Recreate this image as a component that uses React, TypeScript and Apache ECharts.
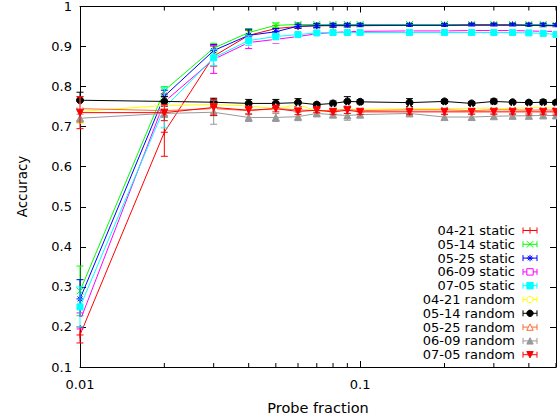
import React, { useEffect, useRef } from "react";
import * as echarts from "echarts";

// ---------- data ----------
const probeFractions = [0.01, 0.02, 0.03, 0.04, 0.05, 0.06, 0.07, 0.08, 0.09, 0.1, 0.15, 0.2, 0.25, 0.3, 0.35, 0.4, 0.45, 0.5];
const minorTickValues = [0.02, 0.03, 0.04, 0.05, 0.06, 0.07, 0.08, 0.09, 0.2, 0.3, 0.4, 0.5];

const seriesNames = [
  "04-21 static", "05-14 static", "05-25 static", "06-09 static", "07-05 static",
  "04-21 random", "05-14 random", "05-25 random", "06-09 random", "07-05 random",
];

const acc0421Static = [0.18, 0.686, 0.876, 0.928, 0.945, 0.95, 0.952, 0.952, 0.952, 0.952, 0.953, 0.953, 0.953, 0.953, 0.953, 0.953, 0.952, 0.952];
const err0421Static = [0.02, 0.06, 0.025, 0.012, 0.008, 0.005, 0.005, 0.004, 0.004, 0.004, 0.004, 0.004, 0.004, 0.004, 0.004, 0.004, 0.004, 0.004];
const acc0514Static = [0.29, 0.79, 0.896, 0.935, 0.953, 0.955, 0.955, 0.955, 0.955, 0.955, 0.955, 0.955, 0.955, 0.955, 0.955, 0.955, 0.955, 0.953];
const err0514Static = [0.062, 0.01, 0.012, 0.01, 0.006, 0.005, 0.004, 0.004, 0.004, 0.004, 0.004, 0.004, 0.004, 0.004, 0.004, 0.004, 0.004, 0.004];
const acc0525Static = [0.27, 0.776, 0.89, 0.928, 0.937, 0.951, 0.952, 0.953, 0.953, 0.953, 0.953, 0.953, 0.954, 0.954, 0.954, 0.953, 0.953, 0.952];
const err0525Static = [0.048, 0.015, 0.015, 0.015, 0.008, 0.005, 0.005, 0.004, 0.004, 0.004, 0.004, 0.004, 0.004, 0.004, 0.004, 0.005, 0.005, 0.005];
const acc0609Static = [0.215, 0.762, 0.868, 0.91, 0.918, 0.925, 0.932, 0.935, 0.937, 0.938, 0.939, 0.939, 0.94, 0.94, 0.94, 0.939, 0.938, 0.938];
const err0609Static = [0.02, 0.02, 0.035, 0.015, 0.01, 0.006, 0.005, 0.004, 0.004, 0.004, 0.004, 0.004, 0.004, 0.004, 0.004, 0.004, 0.004, 0.004];
const acc0705Static = [0.25, 0.747, 0.872, 0.915, 0.925, 0.93, 0.934, 0.935, 0.935, 0.935, 0.935, 0.935, 0.935, 0.935, 0.935, 0.934, 0.933, 0.93];
const err0705Static = [0.05, 0.05, 0.02, 0.012, 0.008, 0.005, 0.005, 0.004, 0.004, 0.004, 0.004, 0.004, 0.004, 0.004, 0.004, 0.004, 0.004, 0.004];

const acc0421Random = [0.738, 0.753, 0.755, 0.752, 0.745, 0.755, 0.739, 0.74, 0.745, 0.743, 0.745, 0.745, 0.746, 0.746, 0.745, 0.748, 0.748, 0.747];
const err0421Random = [0.03, 0.01, 0.01, 0.01, 0.008, 0.008, 0.006, 0.006, 0.006, 0.006, 0.006, 0.006, 0.006, 0.006, 0.006, 0.006, 0.006, 0.006];
const acc0514Random = [0.766, 0.763, 0.761, 0.758, 0.758, 0.76, 0.755, 0.758, 0.763, 0.762, 0.76, 0.763, 0.758, 0.763, 0.761, 0.76, 0.761, 0.76];
const err0514Random = [0.02, 0.012, 0.01, 0.01, 0.01, 0.01, 0.004, 0.006, 0.012, 0.005, 0.01, 0.005, 0.005, 0.006, 0.004, 0.004, 0.006, 0.005];
const acc0525Random = [0.745, 0.74, 0.745, 0.74, 0.745, 0.742, 0.74, 0.74, 0.743, 0.74, 0.742, 0.742, 0.74, 0.742, 0.742, 0.741, 0.742, 0.741];
const err0525Random = [0.03, 0.012, 0.012, 0.01, 0.008, 0.008, 0.006, 0.006, 0.006, 0.006, 0.006, 0.006, 0.006, 0.006, 0.006, 0.006, 0.006, 0.006];
const acc0609Random = [0.721, 0.733, 0.736, 0.723, 0.723, 0.725, 0.733, 0.73, 0.728, 0.73, 0.733, 0.724, 0.724, 0.726, 0.727, 0.727, 0.728, 0.728];
const err0609Random = [0.01, 0.01, 0.03, 0.01, 0.01, 0.01, 0.006, 0.006, 0.012, 0.006, 0.006, 0.006, 0.008, 0.006, 0.006, 0.006, 0.006, 0.006];
const acc0705Random = [0.735, 0.735, 0.748, 0.741, 0.745, 0.738, 0.741, 0.737, 0.741, 0.737, 0.737, 0.737, 0.737, 0.737, 0.737, 0.737, 0.737, 0.737];
const err0705Random = [0.04, 0.02, 0.02, 0.01, 0.008, 0.008, 0.006, 0.006, 0.008, 0.006, 0.006, 0.006, 0.006, 0.006, 0.006, 0.008, 0.006, 0.008];

const allAcc = [acc0421Static, acc0514Static, acc0525Static, acc0609Static, acc0705Static, acc0421Random, acc0514Random, acc0525Random, acc0609Random, acc0705Random];
const allErr = [err0421Static, err0514Static, err0525Static, err0609Static, err0705Static, err0421Random, err0514Random, err0525Random, err0609Random, err0705Random];

// ---------- style ----------
const colors = ["#ff0000", "#00ff00", "#0000ff", "#ff00ff", "#00ffff", "#ffff00", "#000000", "#ff6a30", "#999999", "#ff0000"];
const markerKinds = ["plus", "cross", "star", "emptyRect", "rect", "emptyCircle", "circle", "emptyTriangle", "triangle", "invTriangle"];

const FONT = "DejaVu Sans";
const GRID = { left: 80, top: 6, width: 476, height: 361 };

const symbolFor = (kind: string) => {
  switch (kind) {
    case "plus": return "path://M5,0L5,10M0,5L10,5";
    case "cross": return "path://M0,0L10,10M10,0L0,10";
    case "star": return "path://M5,0L5,10M0,5L10,5M1.5,1.5L8.5,8.5M8.5,1.5L1.5,8.5";
    case "invTriangle": return "triangle";
    default: return kind;
  }
};

const legendMarker = (kind: string, color: string, cx: number, cy: number): any[] => {
  const s = 3.2;
  const ln = (x1: number, y1: number, x2: number, y2: number) => ({
    type: "line", shape: { x1, y1, x2, y2 }, style: { stroke: color, lineWidth: 1 }, z: 100,
  });
  switch (kind) {
    case "plus": return [ln(cx - s, cy, cx + s, cy), ln(cx, cy - s, cx, cy + s)];
    case "cross": return [ln(cx - s, cy - s, cx + s, cy + s), ln(cx - s, cy + s, cx + s, cy - s)];
    case "star": return [ln(cx - s, cy, cx + s, cy), ln(cx, cy - s, cx, cy + s), ln(cx - s * 0.7, cy - s * 0.7, cx + s * 0.7, cy + s * 0.7), ln(cx - s * 0.7, cy + s * 0.7, cx + s * 0.7, cy - s * 0.7)];
    case "emptyRect": return [{ type: "rect", shape: { x: cx - s, y: cy - s, width: 2 * s, height: 2 * s }, style: { fill: "#fff", stroke: color, lineWidth: 1 }, z: 100 }];
    case "rect": return [{ type: "rect", shape: { x: cx - s, y: cy - s, width: 2 * s, height: 2 * s }, style: { fill: color, stroke: color, lineWidth: 1 }, z: 100 }];
    case "emptyCircle": return [{ type: "circle", shape: { cx, cy, r: s }, style: { fill: "#fff", stroke: color, lineWidth: 1 }, z: 100 }];
    case "circle": return [{ type: "circle", shape: { cx, cy, r: s }, style: { fill: color, stroke: color, lineWidth: 1 }, z: 100 }];
    case "emptyTriangle": return [{ type: "polygon", shape: { points: [[cx, cy - s], [cx + s, cy + s], [cx - s, cy + s]] }, style: { fill: "#fff", stroke: color, lineWidth: 1 }, z: 100 }];
    case "triangle": return [{ type: "polygon", shape: { points: [[cx, cy - s], [cx + s, cy + s], [cx - s, cy + s]] }, style: { fill: color, stroke: color, lineWidth: 1 }, z: 100 }];
    case "invTriangle": return [{ type: "polygon", shape: { points: [[cx, cy + s], [cx + s, cy - s], [cx - s, cy - s]] }, style: { fill: color, stroke: color, lineWidth: 1 }, z: 100 }];
  }
  return [];
};

export default function App() {
  const ref = useRef<HTMLDivElement>(null);

  useEffect(() => {
    if (!ref.current) return;
    const chart = echarts.init(ref.current, null, { renderer: "svg" });

    const series: any[] = [];
    seriesNames.forEach((name, i) => {
      const color = colors[i];
      const kind = markerKinds[i];
      series.push({
        name,
        type: "line",
        xAxisIndex: 0,
        yAxisIndex: 0,
        data: probeFractions.map((x, j) => [x, allAcc[i][j]]),
        symbol: symbolFor(kind),
        symbolRotate: kind === "invTriangle" ? 180 : 0,
        symbolSize: kind.indexOf("Rect") >= 0 || kind === "rect" ? 6 : 7,
        showSymbol: true,
        lineStyle: { color, width: 1 },
        itemStyle: { color: kind.startsWith("empty") ? "#fff" : color, borderColor: color, borderWidth: 1 },
        emphasis: { disabled: true },
        z: 10 + i * 2 + 1,
        clip: false,
      });
      series.push({
        name: name + " err",
        type: "custom",
        xAxisIndex: 0,
        yAxisIndex: 0,
        data: probeFractions.map((x, j) => [x, allAcc[i][j], allErr[i][j]]),
        dimensions: ["x", "y", "e"],
        encode: { x: 0, y: 1 },
        z: 10 + i * 2,
        silent: true,
        renderItem: (_p: any, api: any) => {
          const x = api.value(0);
          const y = api.value(1);
          const e = api.value(2);
          const top = api.coord([x, y + e]);
          const bot = api.coord([x, y - e]);
          const w = 3.5;
          const st = { stroke: color, lineWidth: 1 };
          return {
            type: "group",
            children: [
              { type: "line", shape: { x1: top[0], y1: top[1], x2: bot[0], y2: bot[1] }, style: st },
              { type: "line", shape: { x1: top[0] - w, y1: top[1], x2: top[0] + w, y2: top[1] }, style: st },
              { type: "line", shape: { x1: bot[0] - w, y1: bot[1], x2: bot[0] + w, y2: bot[1] }, style: st },
            ],
          };
        },
      });
    });

    // minor log ticks on bottom and top
    series.push({
      type: "custom",
      name: "minorTicks",
      xAxisIndex: 0,
      yAxisIndex: 0,
      data: minorTickValues.map((v) => [v, 0.1]),
      encode: { x: 0, y: 1 },
      silent: true,
      z: 50,
      clip: false,
      renderItem: (_p: any, api: any) => {
        const x = api.value(0);
        const b = api.coord([x, 0.1]);
        const t = api.coord([x, 1]);
        const st = { stroke: "#000", lineWidth: 1 };
        return {
          type: "group",
          children: [
            { type: "line", shape: { x1: b[0], y1: b[1], x2: b[0], y2: b[1] - 4 }, style: st },
            { type: "line", shape: { x1: t[0], y1: t[1], x2: t[0], y2: t[1] + 4 }, style: st },
          ],
        };
      },
    });

    const legendGraphics: any[] = [];
    seriesNames.forEach((name, i) => {
      const cy = 230.5 + i * 13.8;
      const color = colors[i];
      legendGraphics.push({
        type: "text",
        x: 515,
        y: cy,
        style: { text: name, fill: "#000", font: `13px "${FONT}"`, align: "right", verticalAlign: "middle" },
        z: 100,
      });
      const st = { stroke: color, lineWidth: 1 };
      legendGraphics.push({ type: "line", shape: { x1: 523, y1: cy, x2: 537, y2: cy }, style: st, z: 100 });
      legendGraphics.push({ type: "line", shape: { x1: 523, y1: cy - 3, x2: 523, y2: cy + 3 }, style: st, z: 100 });
      legendGraphics.push({ type: "line", shape: { x1: 537, y1: cy - 3, x2: 537, y2: cy + 3 }, style: st, z: 100 });
      legendMarker(markerKinds[i], color, 530, cy).forEach((g) => legendGraphics.push(g));
    });

    const xLabelFmt = (v: number) => {
      const l = Math.log10(v);
      return Math.abs(l - Math.round(l)) < 1e-6 ? String(Number(v.toPrecision(6))) : "";
    };
    const yLabelFmt = (v: number) => String(Number(v.toFixed(1)));

    const axisLineStyle = { lineStyle: { color: "#000", width: 1 } };

    chart.setOption({
      animation: false,
      backgroundColor: "#fff",
      textStyle: { fontFamily: FONT },
      grid: { ...GRID, containLabel: false, show: false },
      xAxis: [
        {
          type: "log",
          logBase: 10,
          min: 0.01,
          max: 0.5,
          position: "bottom",
          axisLine: { show: true, ...axisLineStyle },
          axisTick: { show: true, inside: true, length: 6, lineStyle: { color: "#000" } },
          axisLabel: { show: true, formatter: xLabelFmt, color: "#000", fontSize: 13, fontFamily: FONT, margin: 11, showMaxLabel: false },
          splitLine: { show: false },
          minorTick: { show: false },
        },
        {
          type: "log",
          logBase: 10,
          min: 0.01,
          max: 0.5,
          position: "top",
          axisLine: { show: true, ...axisLineStyle },
          axisTick: { show: true, inside: true, length: 6, lineStyle: { color: "#000" } },
          axisLabel: { show: false },
          splitLine: { show: false },
        },
      ],
      yAxis: [
        {
          type: "value",
          min: 0.1,
          max: 1,
          interval: 0.1,
          position: "left",
          axisLine: { show: true, ...axisLineStyle },
          axisTick: { show: true, inside: true, length: 6, lineStyle: { color: "#000" } },
          axisLabel: { show: true, formatter: yLabelFmt, color: "#000", fontSize: 13, fontFamily: FONT, margin: 8 },
          splitLine: { show: false },
        },
        {
          type: "value",
          min: 0.1,
          max: 1,
          interval: 0.1,
          position: "right",
          axisLine: { show: true, ...axisLineStyle },
          axisTick: { show: true, inside: true, length: 6, lineStyle: { color: "#000" } },
          axisLabel: { show: false },
          splitLine: { show: false },
        },
      ],
      series,
      graphic: [
        {
          type: "text",
          x: 22,
          y: 186.5,
          rotation: Math.PI / 2,
          style: { text: "Accuracy", fill: "#000", font: `13.5px "${FONT}"`, align: "center", verticalAlign: "middle" },
        },
        {
          type: "text",
          x: 318,
          y: 408,
          style: { text: "Probe fraction", fill: "#000", font: `14.5px "${FONT}"`, align: "center", verticalAlign: "middle" },
        },
        ...legendGraphics,
      ],
    });

    return () => chart.dispose();
  }, []);

  return <div ref={ref} style={{ position: "absolute", left: 0, top: 0, width: 557, height: 420 }} />;
}
